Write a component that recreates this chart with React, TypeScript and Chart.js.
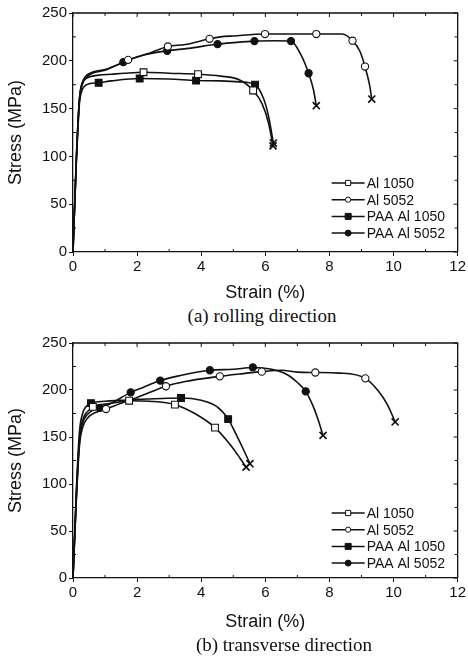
import React, { useEffect, useRef } from "react";
import { Chart, registerables } from "chart.js";

Chart.register(...registerables);

// ---------- axis ticks ----------
const strainTicks = [0, 2, 4, 6, 8, 10, 12];
const stressTicks = [0, 50, 100, 150, 200, 250];
const seriesNames = ["Al 1050", "Al 5052", "PAA Al 1050", "PAA Al 5052"];

// ---------- (a) rolling direction ----------
const rdAl1050Strain = [0, 0.1, 0.2, 0.27, 0.35, 0.5, 0.8, 1.2, 1.6, 2.2, 3.0, 3.9, 4.6, 5.2, 5.62, 5.9, 6.1, 6.24];
const rdAl1050Stress = [0, 95, 160, 175, 180, 183, 185, 186, 187, 188, 187, 186, 184, 180, 169, 155, 135, 111];
const rdAl1050Marks = [9, 11, 14];

const rdAl5052Strain = [0, 0.1, 0.2, 0.3, 0.4, 0.6, 1.0, 1.4, 1.72, 2.3, 2.96, 3.5, 4.26, 4.6, 5.0, 5.99, 7.0, 7.59, 8.4, 8.72, 8.95, 9.11, 9.25, 9.32];
const rdAl5052Stress = [0, 95, 160, 178, 184, 188, 191, 196, 201, 207, 215, 217, 223, 225, 226, 228, 228, 228, 228, 221, 210, 194, 175, 160];
const rdAl5052Marks = [8, 10, 12, 15, 17, 19, 21];

const rdPaa1050Strain = [0, 0.1, 0.2, 0.27, 0.35, 0.5, 0.8, 1.2, 2.08, 3.0, 3.84, 4.6, 5.2, 5.68, 5.95, 6.1, 6.25];
const rdPaa1050Stress = [0, 90, 155, 168, 173, 176, 177, 179, 181.5, 181, 179.4, 179, 178, 175, 160, 142, 114];
const rdPaa1050Marks = [6, 8, 10, 13];

const rdPaa5052Strain = [0, 0.1, 0.2, 0.3, 0.4, 0.6, 1.0, 1.57, 2.2, 2.94, 3.6, 4.51, 5.0, 5.66, 6.3, 6.8, 7.1, 7.35, 7.5, 7.59];
const rdPaa5052Stress = [0, 92, 158, 176, 182, 187, 190, 198.6, 206, 210.5, 213, 217.5, 219, 220.6, 221, 220.6, 207, 187, 170, 153];
const rdPaa5052Marks = [7, 9, 11, 13, 15, 17];

// ---------- (b) transverse direction ----------
const tdAl1050Strain = [0, 0.1, 0.2, 0.3, 0.45, 0.62, 1.0, 1.4, 1.75, 2.4, 3.18, 3.8, 4.43, 4.9, 5.2, 5.4];
const tdAl1050Stress = [0, 85, 148, 168, 177, 182, 185, 187, 188.6, 188, 184.4, 175, 160, 142, 128, 118];
const tdAl1050Marks = [5, 8, 10, 12];

const tdAl5052Strain = [0, 0.1, 0.2, 0.3, 0.45, 0.7, 1.03, 1.5, 2.0, 2.9, 3.5, 4.58, 5.2, 5.89, 6.5, 7.0, 7.56, 8.3, 9.12, 9.5, 9.8, 10.05];
const tdAl5052Stress = [0, 80, 140, 160, 170, 176, 179.8, 186, 192, 204, 209, 214.5, 217, 219.5, 221, 219, 218.6, 218, 212.4, 200, 185, 166];
const tdAl5052Marks = [6, 9, 11, 13, 16, 18];

const tdPaa1050Strain = [0, 0.1, 0.2, 0.3, 0.4, 0.56, 1.0, 1.5, 2.0, 2.8, 3.37, 4.0, 4.5, 4.84, 5.1, 5.3, 5.52];
const tdPaa1050Stress = [0, 90, 155, 175, 182, 186, 188, 189, 190, 191, 191.5, 189, 182, 169, 152, 138, 121.6];
const tdPaa1050Marks = [5, 10, 13];

const tdPaa5052Strain = [0, 0.1, 0.2, 0.3, 0.45, 0.65, 0.84, 1.2, 1.8, 2.2, 2.72, 3.3, 4.27, 5.0, 5.61, 6.2, 6.7, 7.0, 7.26, 7.5, 7.65, 7.8];
const tdPaa5052Stress = [0, 82, 145, 165, 174, 179, 181, 186, 197.5, 203, 210, 215, 221, 222, 224, 222, 216, 208, 198.5, 182, 168, 151.7];
const tdPaa5052Marks = [6, 8, 10, 12, 14, 18];

type Series = { strain: number[]; stress: number[]; marks: number[] };

const rolling: Series[] = [
  { strain: rdAl1050Strain, stress: rdAl1050Stress, marks: rdAl1050Marks },
  { strain: rdAl5052Strain, stress: rdAl5052Stress, marks: rdAl5052Marks },
  { strain: rdPaa1050Strain, stress: rdPaa1050Stress, marks: rdPaa1050Marks },
  { strain: rdPaa5052Strain, stress: rdPaa5052Stress, marks: rdPaa5052Marks },
];
const transverse: Series[] = [
  { strain: tdAl1050Strain, stress: tdAl1050Stress, marks: tdAl1050Marks },
  { strain: tdAl5052Strain, stress: tdAl5052Stress, marks: tdAl5052Marks },
  { strain: tdPaa1050Strain, stress: tdPaa1050Stress, marks: tdPaa1050Marks },
  { strain: tdPaa5052Strain, stress: tdPaa5052Stress, marks: tdPaa5052Marks },
];

// ---------- styles ----------
const INK = "#111";
const SANS = "'Liberation Sans', Arial, Helvetica, sans-serif";
const SERIF = "'Liberation Serif', 'Times New Roman', Times, serif";
const markerShape = ["rect", "circle", "rect", "circle"];
const markerFilled = [false, false, true, true];
const markerRadius = [4.8, 3.6, 4.8, 3.6];

function drawMarker(ctx: CanvasRenderingContext2D, i: number, x: number, y: number, s: number) {
  ctx.beginPath();
  if (markerShape[i] === "rect") {
    ctx.rect(x - s, y - s, 2 * s, 2 * s);
  } else {
    ctx.arc(x, y, s, 0, Math.PI * 2);
  }
  ctx.fillStyle = markerFilled[i] ? INK : "#fff";
  ctx.fill();
  ctx.lineWidth = 1;
  ctx.strokeStyle = INK;
  ctx.stroke();
}

const legendPlugin = {
  id: "customLegend",
  afterDatasetsDraw(chart: any) {
    const { ctx, chartArea: a } = chart;
    ctx.save();
    ctx.font = `14px ${SANS}`;
    ctx.textBaseline = "middle";
    ctx.textAlign = "left";
    seriesNames.forEach((name, i) => {
      const y = a.top + 170 + i * 16.7;
      const x0 = a.right - 126;
      const x1 = a.right - 93;
      ctx.beginPath();
      ctx.moveTo(x0, y);
      ctx.lineTo(x1, y);
      ctx.lineWidth = 1.5;
      ctx.strokeStyle = INK;
      ctx.stroke();
      drawMarker(ctx, i, (x0 + x1) / 2, y, markerFilled[i] ? 3 : 2.6);
      ctx.fillStyle = INK;
      ctx.fillText(name, a.right - 91, y + 1);
    });
    ctx.restore();
  },
};

const framePlugin = {
  id: "frame",
  afterDatasetsDraw(chart: any) {
    const { ctx, chartArea: a, scales } = chart;
    const xs = scales.x;
    const ys = scales.y;
    ctx.save();
    ctx.strokeStyle = INK;
    ctx.lineWidth = 1.3;
    ctx.beginPath();
    ctx.moveTo(a.left, a.top);
    ctx.lineTo(a.right, a.top);
    ctx.lineTo(a.right, a.bottom);
    ctx.stroke();
    ctx.lineWidth = 1;
    ctx.beginPath();
    const xMinor = strainTicks.slice(1).map((v, k) => (v + strainTicks[k]) / 2);
    const yMinor = stressTicks.slice(1).map((v, k) => (v + stressTicks[k]) / 2);
    strainTicks.forEach((v) => {
      const px = xs.getPixelForValue(v);
      ctx.moveTo(px, a.top);
      ctx.lineTo(px, a.top + 4);
    });
    xMinor.forEach((v) => {
      const px = xs.getPixelForValue(v);
      ctx.moveTo(px, a.top);
      ctx.lineTo(px, a.top + 3);
      ctx.moveTo(px, a.bottom);
      ctx.lineTo(px, a.bottom - 3);
    });
    stressTicks.forEach((v) => {
      const py = ys.getPixelForValue(v);
      ctx.moveTo(a.right, py);
      ctx.lineTo(a.right - 4, py);
    });
    yMinor.forEach((v) => {
      const py = ys.getPixelForValue(v);
      ctx.moveTo(a.right, py);
      ctx.lineTo(a.right - 3, py);
      ctx.moveTo(a.left, py);
      ctx.lineTo(a.left + 3, py);
    });
    ctx.stroke();
    ctx.restore();
  },
};

function StressChart({ series, height, axisBottom, xTitlePad }: { series: Series[]; height: number; axisBottom: number; xTitlePad: number }) {
  const ref = useRef<HTMLCanvasElement | null>(null);
  useEffect(() => {
    if (!ref.current) return;
    const datasets = series.map((s, i) => {
      const last = s.strain.length - 1;
      return {
        label: seriesNames[i],
        data: s.strain.map((x, k) => ({ x, y: s.stress[k] })),
        borderColor: INK,
        borderWidth: 1.6,
        cubicInterpolationMode: "monotone" as const,
        fill: false,
        pointStyle: (c: any) => (c.dataIndex === last ? "crossRot" : markerShape[i]),
        pointRadius: (c: any) =>
          c.dataIndex === last ? 5 : s.marks.includes(c.dataIndex) ? markerRadius[i] : 0,
        pointBackgroundColor: markerFilled[i] ? INK : "#fff",
        pointBorderColor: INK,
        pointBorderWidth: (c: any) => (c.dataIndex === last ? 1.7 : 1.1),
        pointHitRadius: 0,
        clip: 8,
      };
    });
    const chart = new Chart(ref.current, {
      type: "line",
      data: { datasets },
      options: {
        animation: false,
        responsive: false,
        events: [],
        layout: { padding: { top: 13, right: 7, left: 0, bottom: 0 } },
        plugins: { legend: { display: false }, tooltip: { enabled: false } },
        scales: {
          x: {
            type: "linear",
            min: 0,
            max: 12,
            afterBuildTicks: (sc: any) => {
              sc.ticks = strainTicks.map((v) => ({ value: v }));
            },
            afterFit: (sc: any) => {
              sc.height = height - axisBottom;
            },
            ticks: { color: INK, font: { family: SANS, size: 15 }, padding: 2, maxRotation: 0 },
            grid: { drawOnChartArea: false, drawTicks: true, tickLength: 4, color: INK, lineWidth: 1 },
            border: { display: true, color: INK, width: 1.3 },
            title: {
              display: true,
              text: "Strain (%)",
              color: INK,
              font: { family: SANS, size: 18 },
              padding: { top: 0, bottom: xTitlePad },
            },
          },
          y: {
            type: "linear",
            min: 0,
            max: 250,
            afterBuildTicks: (sc: any) => {
              sc.ticks = stressTicks.map((v) => ({ value: v }));
            },
            afterFit: (sc: any) => {
              sc.width = 73;
            },
            ticks: { color: INK, font: { family: SANS, size: 15 }, padding: 2 },
            grid: { drawOnChartArea: false, drawTicks: true, tickLength: 4, color: INK, lineWidth: 1 },
            border: { display: true, color: INK, width: 1.3 },
            title: {
              display: true,
              text: "Stress (MPa)",
              color: INK,
              font: { family: SANS, size: 18 },
              padding: { top: 5, bottom: 0 },
            },
          },
        },
      },
      plugins: [framePlugin, legendPlugin],
    } as any);
    return () => chart.destroy();
  }, [series, height, axisBottom, xTitlePad]);
  return <canvas ref={ref} width={468} height={height} style={{ display: "block" }} />;
}

const captionStyle: React.CSSProperties = {
  position: "absolute",
  transform: "translate(-50%, -50%)",
  whiteSpace: "nowrap",
  fontFamily: SERIF,
  fontSize: 19,
  color: INK,
};

export default function App() {
  return (
    <div style={{ position: "absolute", left: 0, top: 0, width: 468, height: 659, background: "#fff", overflow: "hidden" }}>
      <div style={{ position: "absolute", left: 0, top: 0 }}>
        <StressChart series={rolling} height={305} axisBottom={252} xTitlePad={1} />
      </div>
      <div style={{ ...captionStyle, left: 262, top: 316 }}>(a) rolling direction</div>
      <div style={{ position: "absolute", left: 0, top: 330 }}>
        <StressChart series={transverse} height={305} axisBottom={248} xTitlePad={2.5} />
      </div>
      <div style={{ ...captionStyle, left: 284, top: 645 }}>(b) transverse direction</div>
    </div>
  );
}
